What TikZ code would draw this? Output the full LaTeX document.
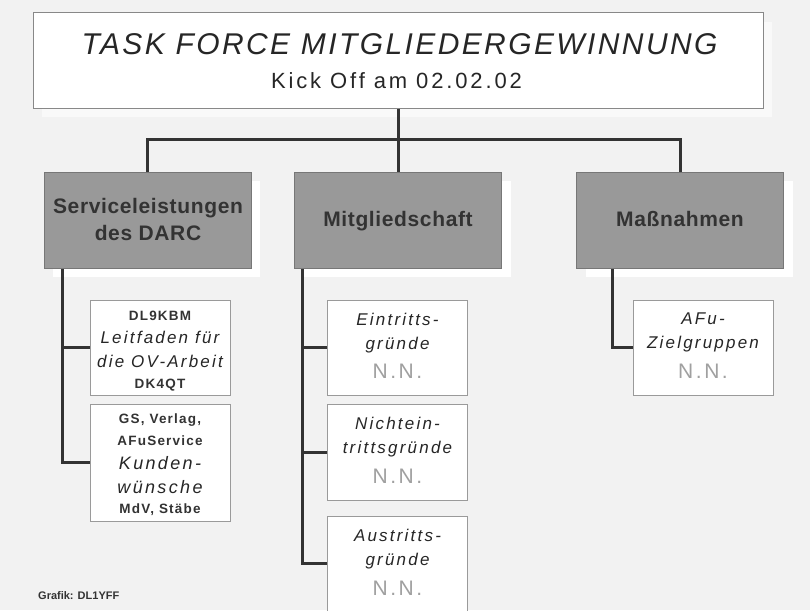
\documentclass[tikz,border=0pt]{standalone}
\usepackage{fontspec}
\setmainfont{Liberation Sans}
\usetikzlibrary{shadows}
\definecolor{bg}{HTML}{F2F2F2}
\definecolor{linec}{HTML}{333333}
\definecolor{txt}{HTML}{333333}
\definecolor{ittxt}{HTML}{262626}
\definecolor{catfill}{HTML}{999999}
\definecolor{catborder}{HTML}{777777}
\definecolor{leafborder}{HTML}{9A9A9A}
\definecolor{nncol}{HTML}{A0A0A0}
\definecolor{topborder}{HTML}{888888}
\definecolor{topshadow}{HTML}{F9F9F9}
\begin{document}
\begin{tikzpicture}[x=1pt,y=-1pt,
  line/.style={draw=linec, line width=3pt},
  topbox/.style={draw=topborder, fill=white, line width=1pt, minimum width=730pt, minimum height=95pt, inner sep=0pt,
    drop shadow={shadow xshift=9pt, shadow yshift=-9pt, fill=topshadow, opacity=1}},
  catbox/.style={draw=catborder, fill=catfill, line width=1pt, minimum width=207pt, minimum height=96pt, inner sep=0pt,
    drop shadow={shadow xshift=9pt, shadow yshift=-9pt, fill=white, opacity=1}},
  cattext/.style={anchor=base, inner sep=0pt, text=txt, font=\addfontfeatures{LetterSpace=3}\bfseries\fontsize{21}{25}\selectfont},
  leafbox/.style={draw=leafborder, fill=white, line width=1pt, minimum width=140pt, inner sep=0pt},
  itx/.style={anchor=base, inner sep=0pt, text=ittxt, font=\addfontfeatures{LetterSpace=13}\itshape\fontsize{17}{20}\selectfont},
  itxl/.style={anchor=base, inner sep=0pt, text=ittxt, font=\addfontfeatures{LetterSpace=13}\itshape\fontsize{18}{20}\selectfont},
  smx/.style={anchor=base, inner sep=0pt, text=txt, font=\addfontfeatures{LetterSpace=9}\bfseries\fontsize{13.5}{16}\selectfont},
  nnx/.style={anchor=base, inner sep=0pt, text=nncol, font=\addfontfeatures{LetterSpace=12}\fontsize{21}{24}\selectfont}
]
\useasboundingbox[fill=bg] (0,0) rectangle (810,610);

% top box
\node[topbox] (top) at (398,60.5) {};
\node[anchor=base, inner sep=0pt, text=ittxt, font=\addfontfeatures{LetterSpace=8}\itshape\fontsize{30}{34}\selectfont] (title) at (399.5,54) {TASK FORCE MITGLIEDERGEWINNUNG};
\node[anchor=base, inner sep=0pt, text=ittxt, font=\addfontfeatures{LetterSpace=13}\fontsize{22}{26}\selectfont] (kick) at (396.5,88) {Kick Off am 02.02.02};

% category boxes
\node[catbox] (cs) at (147.5,220) {};
\node[catbox] (cm) at (398,220) {};
\node[catbox] (cr) at (680,220) {};
\node[cattext] (cs1) at (148,213) {Serviceleistungen};
\node[cattext] (cs2) at (148,240) {des DARC};
\node[cattext] (cm1) at (398,226) {Mitgliedschaft};
\node[cattext] (cr1) at (680,226) {Maßnahmen};

% bus
\coordinate (bus) at (398,139);
\draw[line] (top.south) -- (bus);
\draw[line] (cs.north) |- (bus) -| (cr.north);
\draw[line] (cm.north) -- (cm.north |- bus);

% leaf boxes
\node[leafbox, minimum height=95pt] (l1) at (160,347.5) {};
\node[leafbox, minimum height=117pt] (l2) at (160,462.5) {};
\node[leafbox, minimum height=95pt] (m1) at (397.5,347.5) {};
\node[leafbox, minimum height=96pt] (m2) at (397.5,452) {};
\node[leafbox, minimum height=98pt] (m3) at (397.5,565) {};
\node[leafbox, minimum height=95pt] (r1) at (703,347.5) {};

% connectors to leaves
\coordinate (csd) at ([xshift=19pt]cs.south west);
\coordinate (cmd) at ([xshift=8pt]cm.south west);
\coordinate (crd) at ([xshift=36pt]cr.south west);
\coordinate (m3in) at ([yshift=2pt]m3.west);
\draw[line] (csd) |- (l2.west);
\draw[line] (csd |- l1.west) -- (l1.west);
\draw[line] (cmd) |- (m3in);
\draw[line] (cmd |- m1.west) -- (m1.west);
\draw[line] (cmd |- m2.west) -- (m2.west);
\draw[line] (crd) |- (r1.west);

% leaf texts
\node[smx] (l1a) at (160,320) {DL9KBM};
\node[itx] (l1b) at (160,343) {Leitfaden für};
\node[itx] (l1c) at (160,367) {die OV-Arbeit};
\node[smx] (l1d) at (160,388) {DK4QT};

\node[smx] (l2a) at (160,423) {GS, Verlag,};
\node[smx] (l2b) at (160,445) {AFuService};
\node[itxl] (l2c) at (160,469) {Kunden-};
\node[itxl] (l2d) at (160,493) {wünsche};
\node[smx] (l2e) at (160,513) {MdV, Stäbe};

\node[itx] (m1a) at (397.5,325) {Eintritts-};
\node[itx] (m1b) at (397.5,349) {gründe};
\node[nnx] (m1c) at (397.5,378) {N.N.};

\node[itx] (m2a) at (397.5,429) {Nichtein-};
\node[itx] (m2b) at (397.5,453) {trittsgründe};
\node[nnx] (m2c) at (397.5,483) {N.N.};

\node[itx] (m3a) at (397.5,541) {Austritts-};
\node[itx] (m3b) at (397.5,565) {gründe};
\node[nnx] (m3c) at (397.5,595) {N.N.};

\node[itx] (r1a) at (703,324) {AFu-};
\node[itx] (r1b) at (703,348) {Zielgruppen};
\node[nnx] (r1c) at (703,378) {N.N.};

% credit
\node[anchor=base west, inner sep=0pt, text=txt, font=\bfseries\fontsize{11}{13}\selectfont] (credit) at (38,599) {Grafik: DL1YFF};
\end{tikzpicture}
\end{document}
